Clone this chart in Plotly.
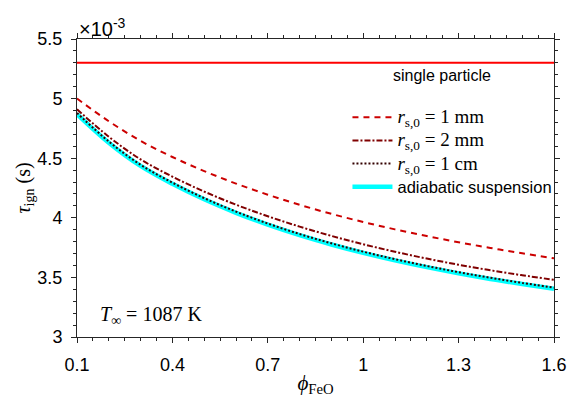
import plotly.graph_objects as go

phi = [0.1, 0.2, 0.3, 0.4, 0.5, 0.6, 0.7, 0.8, 0.9, 1.0, 1.1, 1.2, 1.3, 1.4, 1.5, 1.6]
tau_1mm = [5.000, 4.810, 4.645, 4.510, 4.392, 4.287, 4.194, 4.109, 4.033, 3.965, 3.903, 3.847, 3.795, 3.747, 3.702, 3.660]
tau_2mm = [4.910, 4.680, 4.490, 4.345, 4.220, 4.110, 4.013, 3.926, 3.848, 3.778, 3.715, 3.658, 3.606, 3.560, 3.518, 3.480]
tau_1cm = [4.880, 4.640, 4.445, 4.295, 4.165, 4.052, 3.952, 3.864, 3.786, 3.716, 3.653, 3.596, 3.544, 3.497, 3.454, 3.414]
tau_adiab = [4.870, 4.630, 4.435, 4.285, 4.155, 4.042, 3.942, 3.854, 3.776, 3.706, 3.643, 3.586, 3.534, 3.487, 3.444, 3.404]
tau_single = 5.30
x_ticks = [0.1, 0.4, 0.7, 1.0, 1.3, 1.6]
x_ticklabels = ["0.1", "0.4", "0.7", "1", "1.3", "1.6"]
y_ticks = [3, 3.5, 4, 4.5, 5, 5.5]
y_ticklabels = ["3", "3.5", "4", "4.5", "5", "5.5"]

SERIF = "Liberation Serif"
SANS = "Liberation Sans"
NB = "\u00a0"

def rname(val):
    return f'<span style="font-size:19px"><i>r</i><sub>s,0</sub>{NB}={NB}{val}</span>'

fig = go.Figure()
fig.add_trace(go.Scatter(x=[phi[0], phi[-1]], y=[tau_single, tau_single], mode="lines",
                         line=dict(color="#ff0000", width=2), showlegend=False))
fig.add_trace(go.Scatter(x=phi, y=tau_adiab, mode="lines", line_shape="spline", legendrank=4,
                         line=dict(color="#00ffff", width=4.5),
                         name='<span style="font-family:Liberation Sans;font-size:16.5px">adiabatic suspension</span>'))
fig.add_trace(go.Scatter(x=phi, y=tau_1mm, mode="lines", line_shape="spline", legendrank=1,
                         line=dict(color="#cc0000", width=2, dash="6px,5px"),
                         name=rname(f"1{NB}mm")))
fig.add_trace(go.Scatter(x=phi, y=tau_2mm, mode="lines", line_shape="spline", legendrank=2,
                         line=dict(color="#800000", width=2, dash="6px,2px,2px,2px"),
                         name=rname(f"2{NB}mm")))
fig.add_trace(go.Scatter(x=phi, y=tau_1cm, mode="lines", line_shape="spline", legendrank=3,
                         line=dict(color="#330000", width=2, dash="2px,2px"),
                         name=rname(f"1{NB}cm")))

fig.update_layout(
    width=579, height=402,
    margin=dict(l=77, r=15, t=39, b=62),
    paper_bgcolor="white", plot_bgcolor="white",
    font=dict(family=SANS, size=18, color="black"),
    legend=dict(x=0.567, y=0.793, xanchor="left", yanchor="top",
                traceorder="normal", bgcolor="rgba(0,0,0,0)",
                font=dict(family=SERIF, size=15.5), itemwidth=40,
                tracegroupgap=0),
    showlegend=True,
)
axis_common = dict(showline=True, linecolor="#262626", linewidth=1, mirror="ticks",
                   ticks="outside", ticklen=5, tickcolor="#262626", showgrid=False,
                   zeroline=False, tickfont=dict(family=SANS, size=18, color="black"))
fig.update_xaxes(range=[0.1, 1.6], tickmode="array", tickvals=x_ticks, ticktext=x_ticklabels,
                 ticklabelstandoff=6,
                 minor=dict(dtick=0.05, tick0=0.1, ticks="outside", ticklen=3, tickcolor="#262626"),
                 title=dict(text="<i>ϕ</i><sub>FeO</sub>", font=dict(family=SERIF, size=21), standoff=1),
                 **axis_common)
fig.update_yaxes(range=[3, 5.5], tickmode="array", tickvals=y_ticks, ticktext=y_ticklabels,
                 ticklabelstandoff=5,
                 minor=dict(dtick=0.1, tick0=3, ticks="outside", ticklen=3, tickcolor="#262626"),
                 title=dict(text="<i>τ</i><sub>ign</sub> (s)", font=dict(family=SERIF, size=20), standoff=0),
                 **axis_common)

fig.add_annotation(x=0.0, y=1.0, xref="paper", yref="paper", xanchor="left", yanchor="bottom",
                   text="×10<sup>-3</sup>", showarrow=False, font=dict(family=SANS, size=20), yshift=-3)
fig.add_annotation(x=0.766, y=tau_single, xref="paper", yref="y", xanchor="center", yanchor="top",
                   text="single particle", showarrow=False, font=dict(family=SANS, size=16), yshift=-2)
fig.add_annotation(x=0.045, y=3.18, xref="paper", yref="y", xanchor="left", yanchor="middle",
                   text="<i>T</i><sub>∞</sub>" + NB + "=" + NB + "1087" + NB + "K", showarrow=False,
                   font=dict(family=SERIF, size=20))

fig.write_html("out.html")
